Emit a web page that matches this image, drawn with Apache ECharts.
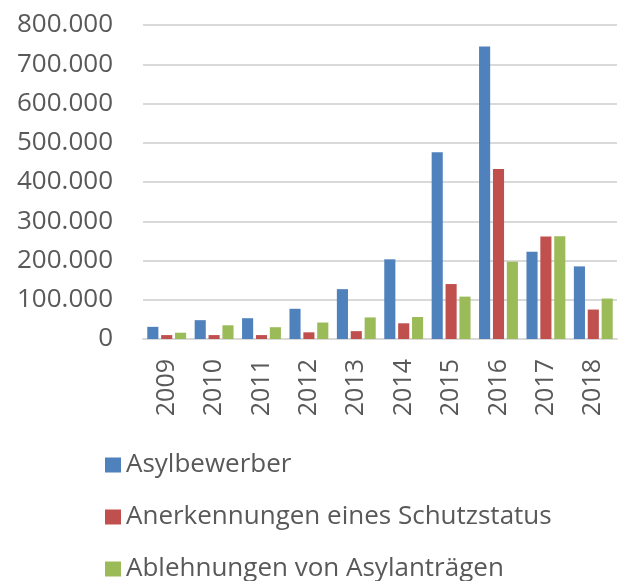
<!DOCTYPE html>
<html>

<head>
  <meta charset="utf-8">
  <style>
    html, body {
      margin: 0;
      padding: 0;
      background: #fff;
    }
  </style>
</head>

<body>
  <div id="main" style="width: 620px; height: 581px"></div>
</body>

<script src="https://cdn.jsdelivr.net/npm/echarts@6/dist/echarts.min.js"></script>
<script>
  var years = ['2009', '2010', '2011', '2012', '2013', '2014', '2015', '2016', '2017', '2018'];
  var asylbewerber = [31000, 48000, 53000, 77000, 127000, 203000, 476000, 745000, 222000, 185000];
  var anerkennungen = [10000, 10000, 10000, 17000, 20000, 40000, 140000, 433000, 261000, 75000];
  var ablehnungen = [16000, 35000, 30000, 42000, 55000, 56000, 108000, 197000, 262000, 103000];
  var seriesNames = ['Asylbewerber', 'Anerkennungen eines Schutzstatus', 'Ablehnungen von Asylanträgen'];

  var font = 'Open Sans';
  var textColor = '#595959';

  function deNumber(v) {
    return String(v).replace(/\B(?=(\d{3})+(?!\d))/g, '.');
  }

  var myChart = echarts.init(document.getElementById('main'));

  myChart.setOption({
    animation: false,
    color: ['#4f81bd', '#c0504d', '#9bbb59'],
    textStyle: { fontFamily: font },
    grid: {
      left: 143,
      right: 3,
      top: 25,
      bottom: 242
    },
    legend: {
      orient: 'vertical',
      left: 100,
      top: 445,
      height: 200,
      itemWidth: 16,
      itemHeight: 15,
      itemGap: 22,
      icon: 'rect',
      textStyle: {
        fontFamily: font,
        fontSize: 26,
        lineHeight: 30,
        color: textColor,
        padding: [0, 0, 0, 0]
      },
      data: seriesNames
    },
    xAxis: {
      type: 'category',
      data: years,
      axisLine: { lineStyle: { color: '#d9d9d9', width: 2 } },
      axisTick: { show: false },
      axisLabel: {
        rotate: 90,
        margin: 20,
        fontFamily: font,
        fontSize: 25,
        color: textColor
      }
    },
    yAxis: {
      type: 'value',
      min: 0,
      max: 800000,
      interval: 100000,
      axisLine: { show: false },
      axisTick: { show: false },
      splitLine: { lineStyle: { color: '#d9d9d9', width: 2 } },
      axisLabel: {
        margin: 30,
        fontFamily: font,
        fontSize: 26,
        color: textColor,
        formatter: deNumber
      }
    },
    series: [{
      name: seriesNames[0],
      type: 'bar',
      barGap: '25%',
      barCategoryGap: '18%',
      data: asylbewerber
    }, {
      name: seriesNames[1],
      type: 'bar',
      barGap: '25%',
      barCategoryGap: '18%',
      data: anerkennungen
    }, {
      name: seriesNames[2],
      type: 'bar',
      barGap: '25%',
      barCategoryGap: '18%',
      data: ablehnungen
    }]
  });
</script>
</html>
